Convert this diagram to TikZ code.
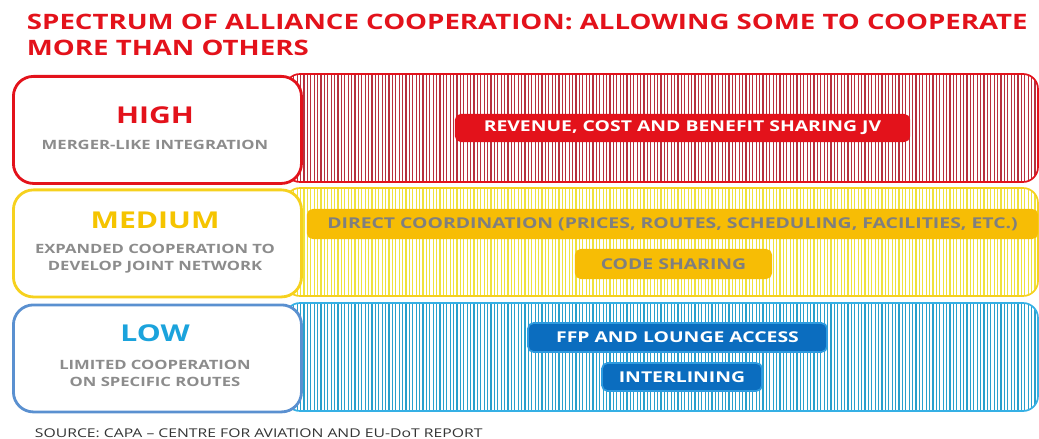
\documentclass[tikz,border=0pt]{standalone}
\usepackage{fontspec}
\setmainfont{Open Sans}[FakeStretch=1.3]
\usepackage{tikz}
\usetikzlibrary{positioning}
\definecolor{capRed}{HTML}{E3121B}
\definecolor{capRedLn}{HTML}{B8303E}
\definecolor{capYel}{HTML}{F6D11E}
\definecolor{capYelLn}{HTML}{EFE23C}
\definecolor{capGold}{HTML}{F7BD05}
\definecolor{capGoldTx}{HTML}{F5C400}
\definecolor{capBlue}{HTML}{5A90D0}
\definecolor{capCyan}{HTML}{35B0E5}
\definecolor{capCyanLn}{HTML}{2AA0CC}
\definecolor{capLowTx}{HTML}{1BA3DC}
\definecolor{capTag}{HTML}{0B6DBF}
\definecolor{capTagLn}{HTML}{2E9BE0}
\definecolor{capGray}{HTML}{8C8C8C}
\definecolor{capTagGray}{HTML}{7F7F7F}
\tikzset{
  lvlbox/.style={draw, line width=2pt, rounded corners=0.5cm, fill=white,
                 minimum width=7.2cm, minimum height=2.675cm},
  lvlname/.style={font=\fontsize{16.5}{16.5}\selectfont\bfseries},
  lvlsub/.style={font=\fontsize{9.1}{12.2}\selectfont\bfseries, text=capGray,
                 align=center},
  tagbox/.style={rounded corners=4pt, font=\fontsize{10.6}{10.6}\selectfont\bfseries,
                 inner sep=0pt},
  hatchline/.style={line width=0.8pt},
  bandframe/.style={line width=1.2pt, rounded corners=0.375cm},
}

\begin{document}
\begin{tikzpicture}[x=0.025cm, y=-0.025cm]
\useasboundingbox (0,0) rectangle (1039,439);
\def\xLeft{12}      % left edge of level boxes
\def\xHatch{285}    % left edge of hatched bands
\def\xRight{1038}   % right edge of hatched bands
\def\xText{155}     % x-position for level labels

%% Title
\node[anchor=north west, align=left, text=capRed,
      font=\fontsize{15.1}{18.5}\selectfont\bfseries] (title) at (22,9)
  {SPECTRUM OF ALLIANCE COOPERATION: ALLOWING SOME TO COOPERATE\\MORE THAN OTHERS};

%% Hatched bands
\foreach \yTop/\yBot/\colLn/\colFr in {74/182/capRedLn/capRed, 188/296/capYelLn/capYel,
                                     303/411/capCyanLn/capCyan} {
  \begin{scope}
    \clip[rounded corners=0.375cm] (\xHatch,\yTop) rectangle (\xRight,\yBot);
    \foreach \x in {287,290.4,...,1038}
      \draw[hatchline, \colLn] (\x,\yTop) -- (\x,\yBot);
  \end{scope}
  \draw[bandframe, \colFr] (\xHatch,\yTop) rectangle (\xRight,\yBot);
}

%% High
\node[lvlbox, draw=capRed, anchor=north west] (highbox) at (\xLeft,75) {};
\node[lvlname, text=capRed] (high) at (\xText,115) {HIGH};
\node[lvlsub] (highsub) at (\xText,145) {MERGER-LIKE INTEGRATION};
\node[tagbox, fill=capRed, text=white, minimum width=11.375cm, minimum height=0.7cm]
  (jv) at (682.5,128) {REVENUE, COST AND BENEFIT SHARING JV};

%% Medium
\node[lvlbox, draw=capYel, anchor=north west] (medbox) at (\xLeft,188.5) {};
\node[lvlname, text=capGoldTx] (medium) at (\xText,220) {MEDIUM};
\node[lvlsub] (medsub) at (\xText,259) {EXPANDED COOPERATION TO\\DEVELOP JOINT NETWORK};
\node[tagbox, fill=capGold, text=capTagGray, minimum width=18.275cm, minimum height=0.75cm]
  (direct) at (672.5,224) {DIRECT COORDINATION (PRICES, ROUTES, SCHEDULING, FACILITIES, ETC.)};
\node[tagbox, fill=capGold, text=capTagGray, minimum width=4.925cm, minimum height=0.75cm]
  (codeshare) at (673.5,264) {CODE SHARING};

%% Low
\node[lvlbox, draw=capBlue, anchor=north west] (lowbox) at (\xLeft,303.5) {};
\node[lvlname, text=capLowTx] (low) at (\xText,333) {LOW};
\node[lvlsub] (lowsub) at (\xText,373) {LIMITED COOPERATION\\ON SPECIFIC ROUTES};
\node[tagbox, fill=capTag, draw=capTagLn, line width=1.2pt, text=white,
      minimum width=7.475cm, minimum height=0.725cm]
  (ffp) at (677.5,337.5) {FFP AND LOUNGE ACCESS};
\node[tagbox, fill=capTag, draw=capTagLn, line width=1.2pt, text=white,
      minimum width=4cm, minimum height=0.7cm]
  (interline) at (682,377) {INTERLINING};

%% Source
\node[anchor=west, text=black!80, font=\fontsize{8.6}{8.6}\selectfont] (source) at (30,433)
  {SOURCE: CAPA -- CENTRE FOR AVIATION AND EU-DoT REPORT};
\end{tikzpicture}
\end{document}
